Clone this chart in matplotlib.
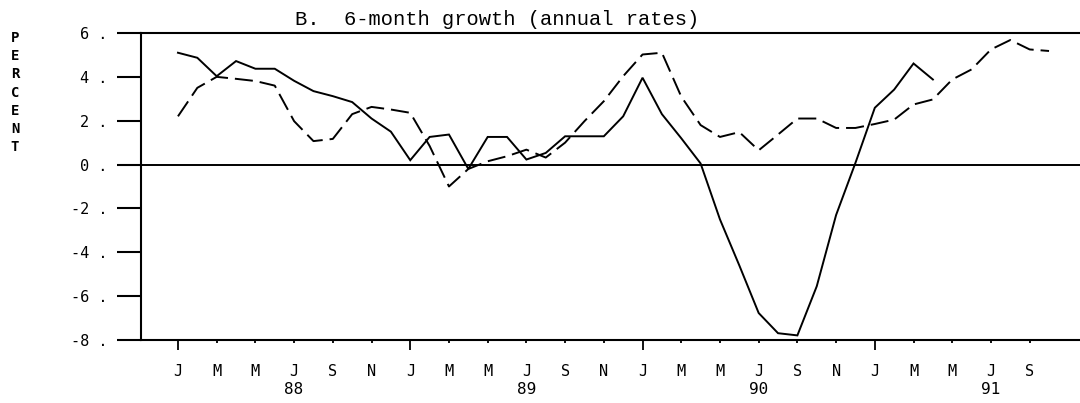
import numpy as np
import matplotlib
matplotlib.use("Agg")
import matplotlib.pyplot as plt
from matplotlib.ticker import FixedLocator, FixedFormatter

# ====== DATA (monthly, index 0 = Jan 1988) ======
solid_vals = [5.1, 4.87, 4.03, 4.72, 4.37, 4.37, 3.82, 3.35, 3.12, 2.85, 2.1, 1.5,
              0.2, 1.26, 1.37, -0.2, 1.26, 1.26, 0.23, 0.53, 1.29, 1.29, 1.29, 2.2,
              3.96, 2.3, 1.2, 0.05, -2.5, -4.6, -6.77, -7.69, -7.79, -5.55, -2.3, 0.08,
              2.59, 3.42, 4.61, 3.88]
dashed_vals = [2.2, 3.5, 4.0, 3.91, 3.81, 3.6, 1.98, 1.07, 1.17, 2.3, 2.63, 2.51,
               2.36, 0.85, -1.0, -0.2, 0.15, 0.38, 0.68, 0.32, 1.0, 1.98, 2.89, 4.03,
               5.02, 5.1, 3.1, 1.8, 1.26, 1.48, 0.65, 1.37, 2.1, 2.1, 1.67, 1.67,
               1.85, 2.05, 2.74, 2.97, 3.88, 4.34, 5.25, 5.68, 5.25, 5.18]
month_letters = ["J", "M", "M", "J", "S", "N"]
years = ["88", "89", "90", "91"]
y_ticks = [6, 4, 2, 0, -2, -4, -6, -8]

n_years = len(years)
m_solid = np.arange(len(solid_vals))
m_dashed = np.arange(len(dashed_vals))

plt.rcParams["lines.scale_dashes"] = False
TICKFONT = "DejaVu Sans Mono"

fig = plt.figure(figsize=(10.8, 4.03), dpi=100)
ax = fig.add_axes([141 / 1080, 1 - 340 / 403, 1 - 141 / 1080, (340 - 33) / 403])

ax.plot(m_solid, solid_vals, color="black", lw=1.4, solid_joinstyle="miter")
ax.plot(m_dashed, dashed_vals, color="black", lw=1.4, dashes=(13, 5))
ax.axhline(0, color="black", lw=1.4)

ax.set_xlim(-1.91, 46.6)
ax.set_ylim(-8, 6)

for side in ["left", "top", "bottom"]:
    ax.spines[side].set_linewidth(1.5)
ax.spines["right"].set_visible(False)

# y axis
ax.yaxis.set_major_locator(FixedLocator(y_ticks))
ax.yaxis.set_major_formatter(FixedFormatter([f"{v} ." for v in y_ticks]))
ax.tick_params(axis="y", direction="out", length=17, width=1.5, pad=7)
for lab in ax.get_yticklabels():
    lab.set_fontfamily(TICKFONT)
    lab.set_fontsize(11)

# x axis: Jan ticks longer, other odd months short
jan_pos = [12 * k for k in range(n_years)]
other_pos = [12 * k + 2 * j for k in range(n_years) for j in range(1, 6)]
other_pos = [p for p in other_pos if p <= 44]
ax.xaxis.set_major_locator(FixedLocator(jan_pos))
ax.xaxis.set_major_formatter(FixedFormatter(["J"] * len(jan_pos)))
ax.xaxis.set_minor_locator(FixedLocator(other_pos))
ax.xaxis.set_minor_formatter(FixedFormatter([month_letters[(p % 12) // 2] for p in other_pos]))
ax.tick_params(axis="x", which="major", direction="out", length=7, width=1.3, pad=10)
ax.tick_params(axis="x", which="minor", direction="out", length=2.5, width=1.3, pad=14.5)
for lab in ax.get_xticklabels(which="both"):
    lab.set_fontfamily(TICKFONT)
    lab.set_fontsize(11)

for k, yr in enumerate(years):
    ax.annotate(yr, xy=(12 * k + 6, 0), xycoords=("data", "axes fraction"),
                xytext=(0, -36), textcoords="offset points", ha="center", va="center",
                fontfamily=TICKFONT, fontsize=11.5)

# vertical PERCENT label
fig.text(15 / 1080, 1 - 31 / 403, "\n".join("PERCENT"), ha="center", va="top",
         fontfamily=TICKFONT, fontweight="bold", fontsize=10, linespacing=1.38)

fig.text(295 / 1080, 1 - 25 / 403, "B.  6-month growth (annual rates)",
         ha="left", va="baseline", fontfamily="Liberation Mono", fontsize=14.8)

fig.savefig("out.png", dpi=100)
